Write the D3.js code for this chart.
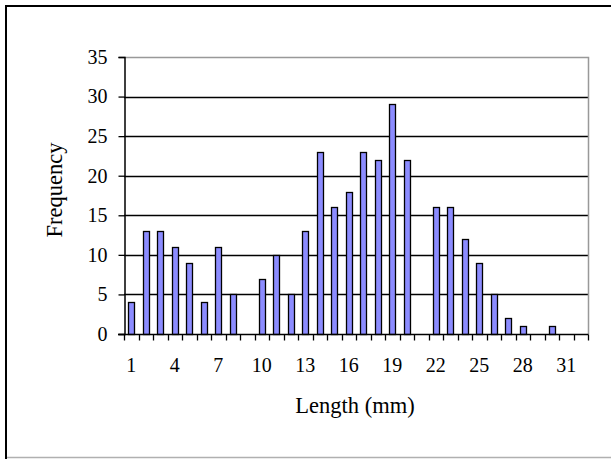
<!DOCTYPE html>
<html>
<head>
<meta charset="utf-8">
<script src="https://cdn.jsdelivr.net/npm/d3@7/dist/d3.min.js"></script>
<style>
  html, body { margin: 0; padding: 0; background: #fff; }
  svg { display: block; }
  text { font-family: "Liberation Serif", "Times New Roman", serif; fill: #000; }
</style>
</head>
<body>
<svg id="chart" width="611" height="459"></svg>
<script>
// Length classes (mm) and how many specimens fall in each
const lengths = d3.range(1, 33);
const frequency = [4, 13, 13, 11, 9, 4, 11, 5, 0, 7, 10, 5, 13, 23, 16, 18,
                   23, 22, 29, 22, 0, 16, 16, 12, 9, 5, 2, 1, 0, 1, 0, 0];
const xTickLabels = [1, 4, 7, 10, 13, 16, 19, 22, 25, 28, 31];
const yTicks = [0, 5, 10, 15, 20, 25, 30, 35];

const svg = d3.select("#chart");
const plot = { left: 124, right: 588, top: 57, bottom: 334 };

// Outer frame
svg.append("line").attr("x1", 6).attr("y1", 5).attr("x2", 6).attr("y2", 459)
  .attr("stroke", "#000").attr("stroke-width", 2);
svg.append("line").attr("x1", 5).attr("y1", 6).attr("x2", 611).attr("y2", 6)
  .attr("stroke", "#000").attr("stroke-width", 2);
svg.append("line").attr("x1", 7).attr("y1", 457.5).attr("x2", 611).attr("y2", 457.5)
  .attr("stroke", "#b0b0b0").attr("stroke-width", 1.5);

const x = d3.scaleBand().domain(lengths).range([plot.left, plot.right]).padding(0);
const y = d3.scaleLinear().domain([0, 35]).range([plot.bottom, plot.top]);

// Horizontal gridlines
svg.append("g").selectAll("line").data(yTicks.filter(t => t > 0 && t < 35)).join("line")
  .attr("x1", plot.left).attr("x2", plot.right)
  .attr("y1", d => Math.round(y(d)) + 0.5).attr("y2", d => Math.round(y(d)) + 0.5)
  .attr("stroke", "#000").attr("stroke-width", 1.3);

// Plot area border (top and right)
svg.append("path")
  .attr("d", `M${plot.left},${plot.top + 0.5}H${plot.right + 0.5}V${plot.bottom}`)
  .attr("fill", "none").attr("stroke", "#999").attr("stroke-width", 1.5);

// Bars
const barW = 6;
svg.append("g").selectAll("rect").data(lengths.map((l, i) => ({ l, v: frequency[i] })).filter(d => d.v > 0))
  .join("rect")
  .attr("x", d => Math.round(x(d.l) + x.bandwidth() / 2 - barW / 2) + 0.5)
  .attr("y", d => Math.round(y(d.v)) + 0.5)
  .attr("width", barW)
  .attr("height", d => Math.round(y(0)) - Math.round(y(d.v)))
  .attr("fill", "#8c8cff")
  .attr("stroke", "#000").attr("stroke-width", 1.3);

// Y axis
const yAxis = d3.axisLeft(y).tickValues(yTicks).tickSize(6).tickPadding(11);
const gy = svg.append("g").attr("transform", `translate(${plot.left + 0.5},0)`).call(yAxis);
gy.select(".domain").attr("stroke", "#000").attr("stroke-width", 1.5);
gy.selectAll(".tick line").attr("stroke", "#000").attr("stroke-width", 1.3);
gy.selectAll(".tick text").attr("font-size", 20)
  .attr("font-family", "Liberation Serif, Times New Roman, serif").attr("fill", "#000");

// X axis: ticks between categories, labels every third class
const gx = svg.append("g").attr("transform", `translate(0,${Math.round(plot.bottom) + 0.5})`);
gx.append("line").attr("x1", plot.left - 6).attr("x2", plot.right + 0.5)
  .attr("stroke", "#000").attr("stroke-width", 1.5);
const boundaries = lengths.map(l => x(l)).concat([x(lengths[lengths.length - 1]) + x.bandwidth()]);
gx.selectAll("line.tk").data(boundaries).join("line").attr("class", "tk")
  .attr("x1", d => Math.round(d) + 0.5).attr("x2", d => Math.round(d) + 0.5)
  .attr("y1", 0).attr("y2", 6).attr("stroke", "#000").attr("stroke-width", 1.3);
gx.selectAll("text").data(xTickLabels).join("text")
  .attr("x", d => x(d) + x.bandwidth() / 2)
  .attr("y", 37)
  .attr("text-anchor", "middle")
  .attr("font-size", 20)
  .text(d => d);

// Axis titles
svg.append("text").attr("x", 355).attr("y", 413).attr("text-anchor", "middle")
  .attr("font-size", 22.5).text("Length (mm)");
svg.append("text").attr("transform", "translate(62,190) rotate(-90)")
  .attr("text-anchor", "middle").attr("font-size", 22.5).text("Frequency");
</script>
</body>
</html>
